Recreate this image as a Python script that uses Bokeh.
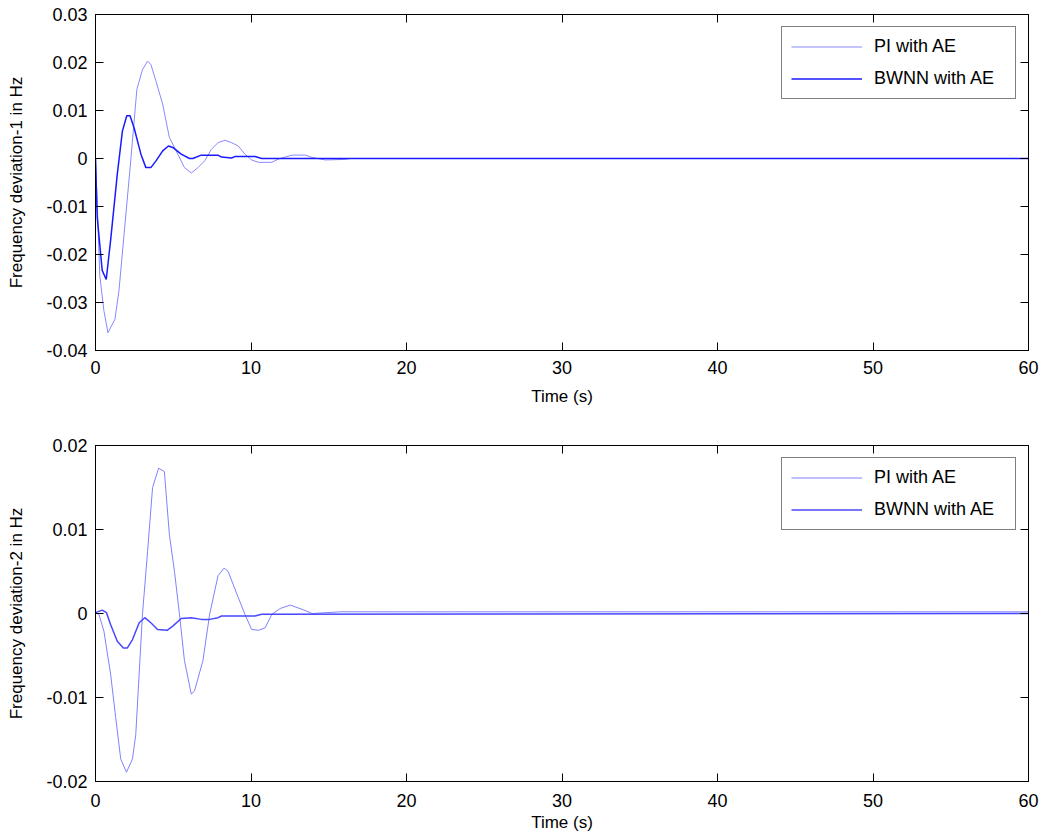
from bokeh.plotting import figure
from bokeh.layouts import column
from bokeh.models import LinearAxis, FixedTicker, CustomJSTickFormatter, Range1d
from bokeh.embed import file_html
from bokeh.resources import INLINE

# ---------------- data ----------------
x_ticks = [0, 10, 20, 30, 40, 50, 60]
x_tick_labels = ["0", "10", "20", "30", "40", "50", "60"]

y1_ticks = [0.03, 0.02, 0.01, 0.0, -0.01, -0.02, -0.03, -0.04]
y1_tick_labels = ["0.03", "0.02", "0.01", "0", "-0.01", "-0.02", "-0.03", "-0.04"]
y2_ticks = [0.02, 0.01, 0.0, -0.01, -0.02]
y2_tick_labels = ["0.02", "0.01", "0", "-0.01", "-0.02"]

series_names = ["PI with AE", "BWNN with AE"]

# Plot 1: frequency deviation-1
t1_pi = [0, 0.28, 0.54, 0.80, 1.25, 1.51, 1.84, 2.27, 2.66, 3.02, 3.35, 3.56, 3.89,
         4.32, 4.75, 5.29, 5.72, 6.16, 6.59, 7.02, 7.45, 7.88, 8.32, 8.75, 9.18,
         9.61, 10.04, 10.48, 11.34, 11.77, 12.64, 13.5, 13.93, 14.79, 15.97, 16.4, 60]
f1_pi = [0, -0.0245, -0.0317, -0.0363, -0.0335, -0.0275, -0.0157, -0.0003, 0.0144,
         0.0185, 0.0203, 0.0196, 0.0161, 0.0113, 0.0044, 0.0009, -0.0019, -0.0030,
         -0.0019, -0.0005, 0.0019, 0.0033, 0.0038, 0.0033, 0.0026, 0.0009, -0.0003,
         -0.0008, -0.0008, -0.0001, 0.0007, 0.0007, 0.0002, -0.0003, -0.0002, 0.0, 0.0]

t1_bw = [0, 0.11, 0.43, 0.69, 0.97, 1.40, 1.73, 2.01, 2.22, 2.48, 2.92, 3.24, 3.56,
         3.89, 4.32, 4.69, 4.97, 5.51, 6.05, 6.26, 6.80, 7.88, 8.10, 8.75, 8.96,
         10.26, 10.69, 60]
f1_bw = [0, -0.0122, -0.0233, -0.0252, -0.0171, -0.0033, 0.0057, 0.0089, 0.0089,
         0.0064, 0.0009, -0.0019, -0.0019, -0.0005, 0.0016, 0.0026, 0.0023, 0.0009,
         0.0, 0.0, 0.0007, 0.0007, 0.0003, 0.0001, 0.0004, 0.0004, 0.0, 0.0]

# Plot 2: frequency deviation-2
t2_pi = [0, 0.22, 0.54, 0.97, 1.30, 1.62, 1.99, 2.38, 2.59, 3.02, 3.35, 3.67, 4.06,
         4.43, 4.75, 5.08, 5.40, 5.72, 6.16, 6.37, 6.91, 7.34, 7.88, 8.27, 8.53,
         9.18, 9.61, 10.04, 10.48, 10.91, 11.34, 11.88, 12.53, 13.28, 13.93, 15.77, 60]
f2_pi = [0.0001, -0.0001, -0.0021, -0.0072, -0.0124, -0.0173, -0.0189, -0.0173,
         -0.0144, -0.0001, 0.0074, 0.0150, 0.0173, 0.0169, 0.0094, 0.0050, -0.0001,
         -0.0056, -0.0096, -0.0092, -0.0056, -0.0001, 0.0045, 0.0054, 0.0050, 0.0019,
         -0.0001, -0.0019, -0.0020, -0.0017, -0.0001, 0.0006, 0.0010, 0.0005, 0.0,
         0.0002, 0.0002]

t2_bw = [0, 0.43, 0.71, 0.97, 1.40, 1.79, 2.05, 2.38, 2.81, 3.17, 3.56, 3.99, 4.60,
         4.97, 5.51, 6.16, 6.80, 7.34, 7.88, 8.10, 10.26, 10.69, 60]
f2_bw = [0.0001, 0.0004, 0.0001, -0.0013, -0.0033, -0.0041, -0.0041, -0.0031,
         -0.0011, -0.0005, -0.0011, -0.0019, -0.0020, -0.0015, -0.0006, -0.0005,
         -0.0007, -0.0007, -0.0005, -0.0003, -0.0003, -0.0001, 0.0]

FONT = "Liberation Sans"


def make_fig(y_range, yt, ytl, ylabel, t_pi, f_pi, t_bw, f_bw, pi_col, bw_col,
             top, bottom, tick_standoff, label_standoff):
    p = figure(frame_width=933, frame_height=336,
               x_range=Range1d(0, 60), y_range=Range1d(*y_range),
               output_backend="svg", toolbar_location=None,
               min_border_left=95, min_border_right=15,
               min_border_top=top, min_border_bottom=bottom,
               background_fill_color="white", border_fill_color="white")
    p.xgrid.visible = False
    p.ygrid.visible = False
    p.outline_line_color = "black"
    p.outline_line_width = 1

    p.line(t_pi, f_pi, line_color=pi_col, line_width=1, legend_label=series_names[0])
    p.line(t_bw, f_bw, line_color=bw_col, line_width=1.5, legend_label=series_names[1])

    xa = p.xaxis[0]
    xa.ticker = FixedTicker(ticks=x_ticks)
    xa.major_label_overrides = dict(zip(x_ticks, x_tick_labels))
    xa.axis_label = "Time (s)"
    xa.major_label_standoff = tick_standoff
    xa.axis_label_standoff = label_standoff

    ya = p.yaxis[0]
    ya.ticker = FixedTicker(ticks=yt)
    ya.major_label_overrides = dict(zip(yt, ytl))
    ya.axis_label = ylabel
    ya.major_label_standoff = 8
    ya.axis_label_standoff = 17

    for ax in (xa, ya):
        ax.major_tick_in = 8
        ax.major_tick_out = 0
        ax.minor_tick_line_color = None
        ax.axis_line_color = "black"
        ax.major_tick_line_color = "black"
        ax.major_label_text_font = FONT
        ax.major_label_text_font_size = "18px"
        ax.major_label_text_color = "black"
        ax.axis_label_text_font = FONT
        ax.axis_label_text_font_size = "17px"
        ax.axis_label_text_font_style = "normal"
        ax.axis_label_text_color = "black"

    blank = CustomJSTickFormatter(code="return ''")
    ra = LinearAxis(ticker=FixedTicker(ticks=yt), formatter=blank)
    ta = LinearAxis(ticker=FixedTicker(ticks=x_ticks), formatter=blank)
    for ax in (ra, ta):
        ax.major_tick_in = 8
        ax.major_tick_out = 0
        ax.minor_tick_line_color = None
        ax.major_label_standoff = 0
        ax.axis_line_color = "black"
        ax.major_tick_line_color = "black"
        ax.major_label_text_font_size = "1px"
    p.add_layout(ra, "right")
    p.add_layout(ta, "above")

    lg = p.legend[0]
    lg.location = "top_right"
    lg.margin = 12
    lg.padding = 9
    lg.spacing = 11
    lg.label_height = 21
    lg.glyph_height = 21
    lg.glyph_width = 71
    lg.label_width = 132
    lg.label_standoff = 12
    lg.label_text_font = FONT
    lg.label_text_font_size = "18px"
    lg.label_text_color = "black"
    lg.border_line_color = "black"
    lg.border_line_width = 1
    lg.background_fill_alpha = 1.0
    return p


p1 = make_fig((-0.04, 0.03), y1_ticks, y1_tick_labels, "Frequency deviation-1 in Hz",
              t1_pi, f1_pi, t1_bw, f1_bw, "#8888ff", "#1a1aff", 14, 67, 10, 10)
p2 = make_fig((-0.02, 0.02), y2_ticks, y2_tick_labels, "Frequency deviation-2 in Hz",
              t2_pi, f2_pi, t2_bw, f2_bw, "#8080ff", "#4848ff", 28, 56, 12, 3)

layout = column(p1, p2, spacing=0)
open("out.html", "w").write(file_html(layout, INLINE))
